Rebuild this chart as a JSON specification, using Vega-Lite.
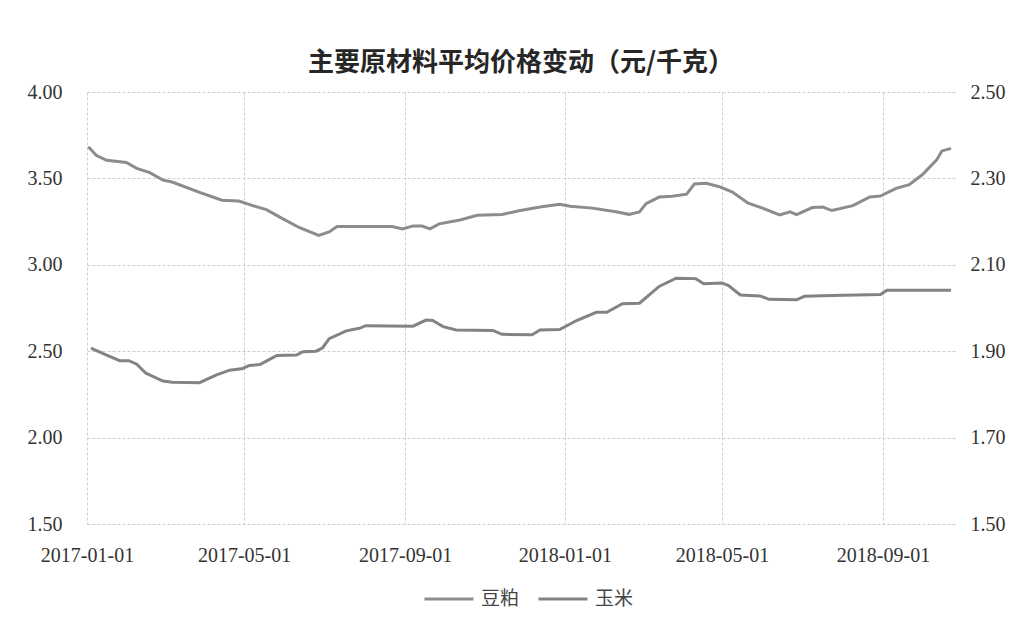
{
  "$schema": "https://vega.github.io/schema/vega-lite/v6.json",
  "width": 868,
  "height": 432,
  "autosize": {"type": "none"},
  "padding": {"left": 87, "top": 92, "right": 70, "bottom": 106},
  "background": "#ffffff",
  "title": {
    "text": "主要原材料平均价格变动（元/千克）",
    "font": "Noto Sans CJK SC",
    "fontSize": 26,
    "fontWeight": "bold",
    "color": "#262626",
    "anchor": "middle",
    "offset": 6
  },
  "config": {
    "view": {"stroke": null},
    "axis": {
      "labelFont": "Liberation Serif",
      "labelFontSize": 20,
      "labelColor": "#333333",
      "domain": false,
      "ticks": false,
      "title": null,
      "gridColor": "#cfcfcf",
      "gridDash": [3, 2],
      "gridWidth": 1
    }
  },
  "data": {
    "values": [
      {"date": "2017-01-02", "series": "豆粕", "price": 3.683},
      {"date": "2017-01-08", "series": "豆粕", "price": 3.634},
      {"date": "2017-01-16", "series": "豆粕", "price": 3.605},
      {"date": "2017-01-31", "series": "豆粕", "price": 3.592},
      {"date": "2017-02-08", "series": "豆粕", "price": 3.558},
      {"date": "2017-02-18", "series": "豆粕", "price": 3.533},
      {"date": "2017-02-28", "series": "豆粕", "price": 3.49},
      {"date": "2017-03-07", "series": "豆粕", "price": 3.479},
      {"date": "2017-03-28", "series": "豆粕", "price": 3.419},
      {"date": "2017-04-14", "series": "豆粕", "price": 3.374},
      {"date": "2017-04-27", "series": "豆粕", "price": 3.369},
      {"date": "2017-05-07", "series": "豆粕", "price": 3.344},
      {"date": "2017-05-18", "series": "豆粕", "price": 3.319},
      {"date": "2017-05-30", "series": "豆粕", "price": 3.269},
      {"date": "2017-06-12", "series": "豆粕", "price": 3.216},
      {"date": "2017-06-27", "series": "豆粕", "price": 3.17},
      {"date": "2017-07-05", "series": "豆粕", "price": 3.19},
      {"date": "2017-07-11", "series": "豆粕", "price": 3.222},
      {"date": "2017-08-02", "series": "豆粕", "price": 3.222},
      {"date": "2017-08-22", "series": "豆粕", "price": 3.221},
      {"date": "2017-08-30", "series": "豆粕", "price": 3.208},
      {"date": "2017-09-07", "series": "豆粕", "price": 3.225},
      {"date": "2017-09-14", "series": "豆粕", "price": 3.224},
      {"date": "2017-09-20", "series": "豆粕", "price": 3.208},
      {"date": "2017-09-27", "series": "豆粕", "price": 3.237},
      {"date": "2017-10-13", "series": "豆粕", "price": 3.259},
      {"date": "2017-10-26", "series": "豆粕", "price": 3.287},
      {"date": "2017-11-14", "series": "豆粕", "price": 3.291},
      {"date": "2017-11-27", "series": "豆粕", "price": 3.313},
      {"date": "2017-12-13", "series": "豆粕", "price": 3.335},
      {"date": "2017-12-28", "series": "豆粕", "price": 3.35},
      {"date": "2018-01-05", "series": "豆粕", "price": 3.339},
      {"date": "2018-01-22", "series": "豆粕", "price": 3.328},
      {"date": "2018-02-09", "series": "豆粕", "price": 3.307},
      {"date": "2018-02-19", "series": "豆粕", "price": 3.292},
      {"date": "2018-02-27", "series": "豆粕", "price": 3.306},
      {"date": "2018-03-04", "series": "豆粕", "price": 3.354},
      {"date": "2018-03-14", "series": "豆粕", "price": 3.392},
      {"date": "2018-03-24", "series": "豆粕", "price": 3.397},
      {"date": "2018-04-04", "series": "豆粕", "price": 3.409},
      {"date": "2018-04-10", "series": "豆粕", "price": 3.468},
      {"date": "2018-04-19", "series": "豆粕", "price": 3.472},
      {"date": "2018-04-29", "series": "豆粕", "price": 3.452},
      {"date": "2018-05-09", "series": "豆粕", "price": 3.421},
      {"date": "2018-05-21", "series": "豆粕", "price": 3.357},
      {"date": "2018-06-01", "series": "豆粕", "price": 3.328},
      {"date": "2018-06-14", "series": "豆粕", "price": 3.289},
      {"date": "2018-06-22", "series": "豆粕", "price": 3.307},
      {"date": "2018-06-27", "series": "豆粕", "price": 3.291},
      {"date": "2018-07-09", "series": "豆粕", "price": 3.331},
      {"date": "2018-07-17", "series": "豆粕", "price": 3.334},
      {"date": "2018-07-24", "series": "豆粕", "price": 3.314},
      {"date": "2018-08-09", "series": "豆粕", "price": 3.342},
      {"date": "2018-08-22", "series": "豆粕", "price": 3.393},
      {"date": "2018-08-30", "series": "豆粕", "price": 3.398},
      {"date": "2018-09-11", "series": "豆粕", "price": 3.442},
      {"date": "2018-09-21", "series": "豆粕", "price": 3.464},
      {"date": "2018-10-01", "series": "豆粕", "price": 3.521},
      {"date": "2018-10-12", "series": "豆粕", "price": 3.607},
      {"date": "2018-10-16", "series": "豆粕", "price": 3.659},
      {"date": "2018-10-23", "series": "豆粕", "price": 3.674},
      {"date": "2017-01-04", "series": "玉米", "price": 1.907},
      {"date": "2017-01-16", "series": "玉米", "price": 1.891},
      {"date": "2017-01-26", "series": "玉米", "price": 1.878},
      {"date": "2017-02-02", "series": "玉米", "price": 1.878},
      {"date": "2017-02-08", "series": "玉米", "price": 1.87},
      {"date": "2017-02-15", "series": "玉米", "price": 1.849},
      {"date": "2017-02-28", "series": "玉米", "price": 1.831},
      {"date": "2017-03-07", "series": "玉米", "price": 1.828},
      {"date": "2017-03-28", "series": "玉米", "price": 1.827},
      {"date": "2017-04-02", "series": "玉米", "price": 1.834},
      {"date": "2017-04-10", "series": "玉米", "price": 1.845},
      {"date": "2017-04-20", "series": "玉米", "price": 1.856},
      {"date": "2017-04-30", "series": "玉米", "price": 1.86},
      {"date": "2017-05-05", "series": "玉米", "price": 1.867},
      {"date": "2017-05-13", "series": "玉米", "price": 1.869},
      {"date": "2017-05-18", "series": "玉米", "price": 1.877},
      {"date": "2017-05-26", "series": "玉米", "price": 1.89},
      {"date": "2017-06-10", "series": "玉米", "price": 1.891},
      {"date": "2017-06-15", "series": "玉米", "price": 1.899},
      {"date": "2017-06-25", "series": "玉米", "price": 1.9},
      {"date": "2017-06-30", "series": "玉米", "price": 1.908},
      {"date": "2017-07-05", "series": "玉米", "price": 1.929},
      {"date": "2017-07-18", "series": "玉米", "price": 1.947},
      {"date": "2017-07-28", "series": "玉米", "price": 1.953},
      {"date": "2017-08-02", "series": "玉米", "price": 1.959},
      {"date": "2017-09-07", "series": "玉米", "price": 1.958},
      {"date": "2017-09-17", "series": "玉米", "price": 1.972},
      {"date": "2017-09-22", "series": "玉米", "price": 1.971},
      {"date": "2017-09-30", "series": "玉米", "price": 1.957},
      {"date": "2017-10-10", "series": "玉米", "price": 1.949},
      {"date": "2017-11-07", "series": "玉米", "price": 1.948},
      {"date": "2017-11-14", "series": "玉米", "price": 1.939},
      {"date": "2017-12-07", "series": "玉米", "price": 1.938},
      {"date": "2017-12-13", "series": "玉米", "price": 1.949},
      {"date": "2017-12-28", "series": "玉米", "price": 1.95},
      {"date": "2018-01-10", "series": "玉米", "price": 1.971},
      {"date": "2018-01-25", "series": "玉米", "price": 1.99},
      {"date": "2018-02-02", "series": "玉米", "price": 1.99},
      {"date": "2018-02-14", "series": "玉米", "price": 2.01},
      {"date": "2018-02-27", "series": "玉米", "price": 2.011},
      {"date": "2018-03-14", "series": "玉米", "price": 2.05},
      {"date": "2018-03-27", "series": "玉米", "price": 2.069},
      {"date": "2018-04-11", "series": "玉米", "price": 2.068},
      {"date": "2018-04-17", "series": "玉米", "price": 2.056},
      {"date": "2018-05-01", "series": "玉米", "price": 2.058},
      {"date": "2018-05-06", "series": "玉米", "price": 2.052},
      {"date": "2018-05-15", "series": "玉米", "price": 2.03},
      {"date": "2018-05-30", "series": "玉米", "price": 2.028},
      {"date": "2018-06-06", "series": "玉米", "price": 2.02},
      {"date": "2018-06-27", "series": "玉米", "price": 2.019},
      {"date": "2018-07-03", "series": "玉米", "price": 2.027},
      {"date": "2018-07-24", "series": "玉米", "price": 2.029},
      {"date": "2018-08-30", "series": "玉米", "price": 2.031},
      {"date": "2018-09-04", "series": "玉米", "price": 2.041},
      {"date": "2018-10-23", "series": "玉米", "price": 2.041}
    ]
  },
  "encoding": {
    "x": {
      "field": "date",
      "type": "temporal",
      "scale": {
        "type": "utc",
        "domain": [
          {"year": 2017, "month": 1, "date": 1, "utc": true},
          {"year": 2018, "month": 10, "date": 26, "utc": true}
        ]
      },
      "axis": {
        "values": [
          {"year": 2017, "month": 1, "date": 1, "utc": true},
          {"year": 2017, "month": 5, "date": 1, "utc": true},
          {"year": 2017, "month": 9, "date": 1, "utc": true},
          {"year": 2018, "month": 1, "date": 1, "utc": true},
          {"year": 2018, "month": 5, "date": 1, "utc": true},
          {"year": 2018, "month": 9, "date": 1, "utc": true}
        ],
        "format": "%Y-%m-%d",
        "grid": true,
        "labelPadding": 21,
        "labelFlush": false,
        "labelOverlap": false
      }
    },
    "color": {
      "field": "series",
      "type": "nominal",
      "scale": {"domain": ["豆粕", "玉米"], "range": ["#8c8c8c", "#838383"]},
      "legend": {
        "title": null,
        "orient": "none",
        "direction": "horizontal",
        "legendX": 336,
        "legendY": 481,
        "padding": 0,
        "symbolType": "stroke",
        "symbolSize": 2401,
        "symbolStrokeWidth": 3,
        "labelFont": "Noto Sans CJK SC",
        "labelFontSize": 19,
        "labelColor": "#444444",
        "labelOffset": 6,
        "columnPadding": 12
      }
    }
  },
  "layer": [
    {
      "transform": [{"filter": "datum.series === '豆粕'"}],
      "mark": {"type": "line", "strokeWidth": 3, "interpolate": "linear"},
      "encoding": {
        "y": {
          "field": "price",
          "type": "quantitative",
          "scale": {"domain": [1.5, 4], "nice": false, "zero": false},
          "axis": {
            "orient": "left",
            "values": [1.5, 2, 2.5, 3, 3.5, 4],
            "format": ".2f",
            "grid": true,
            "labelPadding": 25
          }
        }
      }
    },
    {
      "transform": [{"filter": "datum.series === '玉米'"}],
      "mark": {"type": "line", "strokeWidth": 3, "interpolate": "linear"},
      "encoding": {
        "y": {
          "field": "price",
          "type": "quantitative",
          "scale": {"domain": [1.5, 2.5], "nice": false, "zero": false},
          "axis": {
            "orient": "right",
            "values": [1.5, 1.7, 1.9, 2.1, 2.3, 2.5],
            "format": ".2f",
            "grid": false,
            "labelPadding": 15
          }
        }
      }
    }
  ],
  "resolve": {"scale": {"y": "independent"}, "axis": {"y": "independent"}}
}
